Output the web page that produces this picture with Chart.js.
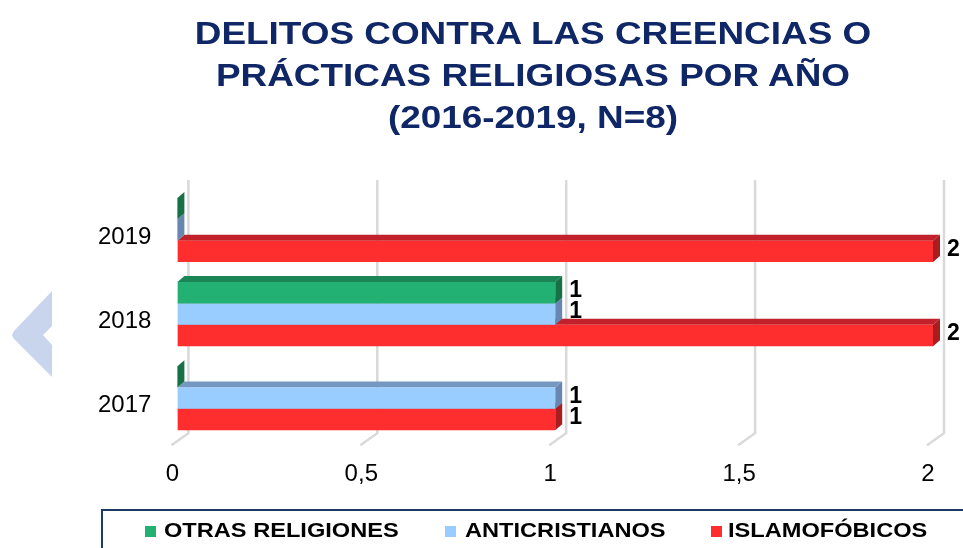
<!DOCTYPE html>
<html>
<head>
<meta charset="utf-8">
<script src="https://cdn.jsdelivr.net/npm/chart.js@4/dist/chart.umd.min.js"></script>
<style>
    html, body { margin: 0; padding: 0; background: #fff; }
    #wrap { position: relative; width: 963px; height: 548px; overflow: hidden; font-family: "Liberation Sans", Arial, sans-serif; }
    #chart { position: absolute; left: 0; top: 0; }
    #titulo {
        position: absolute; left: 0; top: 13px; width: 1066px;
        text-align: center; color: #0f2667; font-weight: bold;
        font-size: 31px; line-height: 42px;
        transform: scaleX(1.19); transform-origin: 533px 0;
    }
    #flecha { position: absolute; left: 0; top: 280px; }
    #leyenda {
        position: absolute; left: 101px; top: 509px; width: 900px; height: 60px;
        border: 2px solid #1f3864; box-sizing: border-box;
    }
    .cuadro { position: absolute; width: 11px; height: 11px; top: 15px; }
    .texto {
        position: absolute; top: 2px; font-weight: bold; font-size: 20px; line-height: 34px;
        color: #000; white-space: nowrap; transform: scaleX(1.18); transform-origin: 0 0;
    }
</style>
</head>
<body>
<div id="wrap">
    <canvas id="chart" width="963" height="548"></canvas>
    <div id="titulo">DELITOS CONTRA LAS CREENCIAS O<br>PRÁCTICAS RELIGIOSAS POR AÑO<br>(2016-2019, N=8)</div>
    <svg id="flecha" width="60" height="100">
        <polygon points="52,11 52,46 43,55 52,65 52,97 14,59 12,55 14,51" fill="#c8d5ec"/>
    </svg>
    <div id="leyenda"></div>
</div>
<script>
// Datos del gráfico
const years = ["2017", "2018", "2019"];
const otrasReligiones = [0, 1, 0];
const anticristianos = [1, 1, 0];
const islamofobicos = [1, 2, 2];
const xTicks = [0, 0.5, 1, 1.5, 2];
const seriesNames = ["OTRAS RELIGIONES", "ANTICRISTIANOS", "ISLAMOFÓBICOS"];

// Colores: cara frontal, cara superior y cara lateral
const frontColors = ["#22b073", "#99ccff", "#ff2e2e"];
const topColors = ["#1c8556", "#7598c2", "#c2202a"];
const sideColors = ["#177046", "#6887b0", "#a81c22"];
const depth = { x: 7, y: 6 };

// Efecto 3D, rejilla de pared y etiquetas de valores
const bar3d = {
    id: "bar3d",
    beforeDatasetsDraw(chart) {
        const ctx = chart.ctx;
        const xs = chart.scales.x;
        const area = chart.chartArea;
        ctx.save();
        // rejilla en la pared del fondo
        ctx.strokeStyle = "#d9d9d9";
        ctx.lineWidth = 2.5;
        xTicks.forEach(v => {
            const px = xs.getPixelForValue(v);
            ctx.beginPath();
            ctx.moveTo(px + 11, area.top - 8);
            ctx.lineTo(px + 11, area.bottom - 7);
            ctx.lineTo(px - 6, area.bottom + 5);
            ctx.stroke();
        });
        // caras superior y lateral, de abajo hacia arriba
        for (let d = chart.data.datasets.length - 1; d >= 0; d--) {
            chart.getDatasetMeta(d).data.forEach(bar => {
                const p = bar.getProps(["x", "y", "base", "height"], true);
                const top = p.y - p.height / 2;
                const bottom = p.y + p.height / 2;
                const x0 = Math.min(p.base, p.x);
                const x1 = Math.max(p.base, p.x);
                ctx.fillStyle = topColors[d];
                ctx.beginPath();
                ctx.moveTo(x0, top);
                ctx.lineTo(x0 + depth.x, top - depth.y);
                ctx.lineTo(x1 + depth.x, top - depth.y);
                ctx.lineTo(x1, top);
                ctx.closePath();
                ctx.fill();
                ctx.fillStyle = sideColors[d];
                ctx.beginPath();
                ctx.moveTo(x1, top);
                ctx.lineTo(x1 + depth.x, top - depth.y);
                ctx.lineTo(x1 + depth.x, bottom - depth.y);
                ctx.lineTo(x1, bottom);
                ctx.closePath();
                ctx.fill();
            });
        }
        ctx.restore();
    },
    afterDatasetsDraw(chart) {
        const ctx = chart.ctx;
        ctx.save();
        ctx.font = 'bold 23px "Liberation Sans", Arial, sans-serif';
        ctx.fillStyle = "#000";
        ctx.textAlign = "left";
        ctx.textBaseline = "middle";
        chart.data.datasets.forEach((ds, d) => {
            chart.getDatasetMeta(d).data.forEach((bar, i) => {
                const v = ds.data[i];
                if (!v) return;
                const p = bar.getProps(["x", "y"], true);
                ctx.fillText(String(v), p.x + 14, p.y - 2);
            });
        });
        ctx.restore();
    }
};

Chart.defaults.font.family = '"Liberation Sans", Arial, sans-serif';
Chart.defaults.color = "#000";

const seriesData = [otrasReligiones, anticristianos, islamofobicos];

new Chart(document.getElementById("chart"), {
    type: "bar",
    data: {
        labels: years,
        datasets: seriesData.map((values, i) => ({
            label: seriesNames[i],
            data: values,
            backgroundColor: frontColors[i],
            borderWidth: 0,
            categoryPercentage: 0.762,
            barPercentage: 1
        }))
    },
    options: {
        indexAxis: "y",
        responsive: false,
        animation: false,
        layout: { padding: { top: 188, left: 72, right: 30, bottom: 39 } },
        plugins: {
            legend: { display: false },
            title: { display: false },
            tooltip: { enabled: false }
        },
        scales: {
            x: {
                min: 0,
                max: 2,
                afterBuildTicks: scale => { scale.ticks = xTicks.map(v => ({ value: v })); },
                grid: { display: false, drawTicks: false },
                border: { display: false },
                ticks: {
                    font: { size: 24 },
                    padding: 20,
                    labelOffset: -5,
                    callback: v => String(v).replace(".", ",")
                }
            },
            y: {
                reverse: true,
                grid: { display: false, drawTicks: false },
                border: { display: false },
                ticks: { font: { size: 24 }, padding: 26, labelOffset: 7 }
            }
        }
    },
    plugins: [bar3d]
});

// Leyenda
const leyenda = document.getElementById("leyenda");
const boxX = [42, 342, 608];
const textX = [61, 362, 625];
seriesNames.forEach((name, i) => {
    const box = document.createElement("div");
    box.className = "cuadro";
    box.style.left = boxX[i] + "px";
    box.style.background = frontColors[i];
    leyenda.appendChild(box);
    const txt = document.createElement("span");
    txt.className = "texto";
    txt.style.left = textX[i] + "px";
    txt.textContent = name;
    leyenda.appendChild(txt);
});
</script>
</body>
</html>
